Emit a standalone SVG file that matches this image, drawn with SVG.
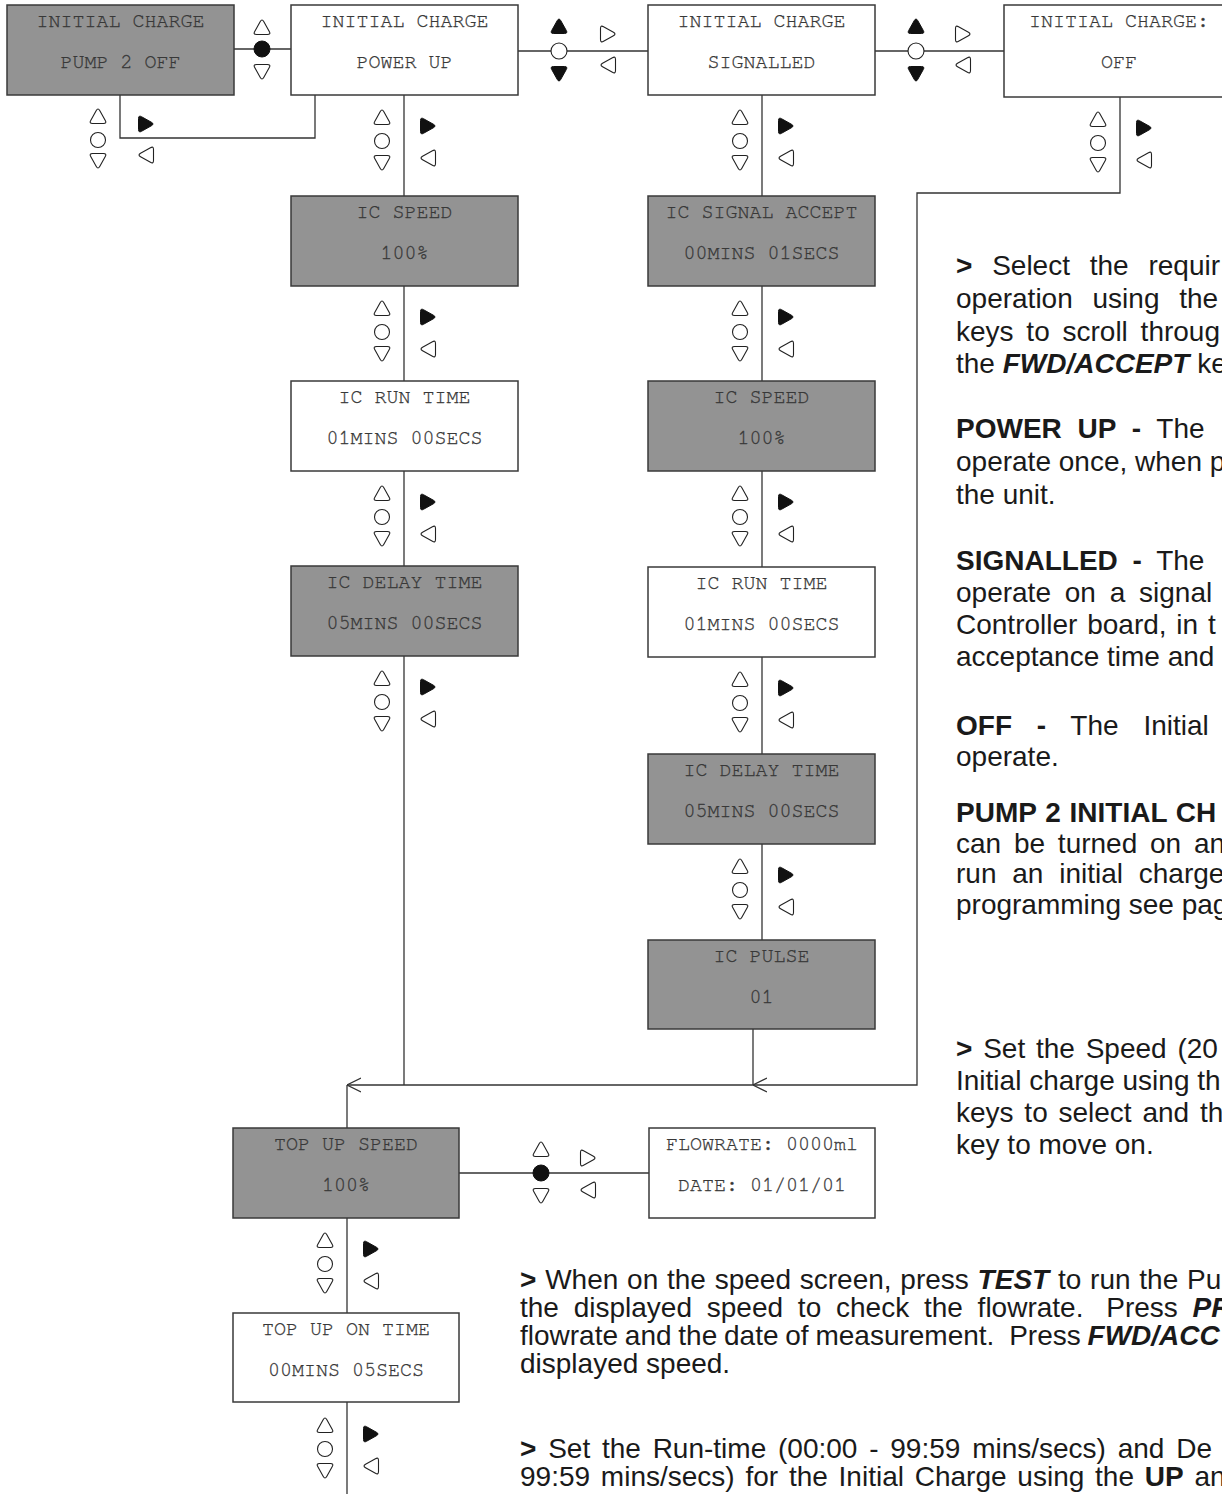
<svg xmlns="http://www.w3.org/2000/svg" width="1222" height="1494" viewBox="0 0 1222 1494">
<style>
.box{stroke:#3a3a3a;stroke-width:1.5}
.g{fill:#939393}
.w{fill:#fff}
.mono{font-family:"FreeMono","Nimbus Mono PS","Courier New","Liberation Mono",monospace;font-size:20px;fill:#383838;stroke:#383838;stroke-width:0.3;text-anchor:middle}
.ln{fill:none;stroke:#333;stroke-width:1.3}
.o{fill:#fff;stroke:#222;stroke-width:1.1}
.f{fill:#111;stroke:#111;stroke-width:1}
.txt{font-family:"Liberation Sans",Arial,sans-serif;font-size:28px;fill:#1a1a1a}
.b{font-weight:bold}
.bi{font-weight:bold;font-style:italic}
</style>
<defs>
<path id="tri" d="M-1.72,-5.45 Q0,-8.5 1.72,-5.45 L7.28,4.45 Q9,7.5 5.5,7.5 L-5.5,7.5 Q-9,7.5 -7.28,4.45 Z"/>
<marker id="chev" viewBox="0 0 14 16" refX="14" refY="8" markerWidth="14" markerHeight="16" orient="auto" markerUnits="userSpaceOnUse">
<path d="M0,1 L14,8 L0,15" fill="none" stroke="#333" stroke-width="1.2"/>
</marker>
</defs>
<rect width="1222" height="1494" fill="#fff"/>

<g id="connectors" class="ln">
<path d="M234,49 H291"/>
<path d="M518,51 H648"/>
<path d="M875,51 H1004"/>
<path d="M120,95 V138 H315 V95"/>
<path d="M404,95 V1085"/>
<path d="M762,95 V940"/>
<path d="M753,1029 V1085"/>
<path d="M1120,97 V193 H917 V1085 H753" marker-end="url(#chev)"/>
<path d="M753,1085 H347" marker-end="url(#chev)"/>
<path d="M347,1085 V1494"/>
<path d="M459,1173 H649"/>
</g>

<g id="keys">
<use href="#tri" class="o" transform="translate(262,27)"/>
<circle class="f" cx="262" cy="49" r="8"/>
<use href="#tri" class="o" transform="translate(262,72) rotate(180)"/>

<use href="#tri" class="f" transform="translate(559,26)"/>
<circle class="o" cx="559" cy="51" r="8"/>
<use href="#tri" class="f" transform="translate(559,74) rotate(180)"/>
<use href="#tri" class="o" transform="translate(608,34) rotate(90)"/>
<use href="#tri" class="o" transform="translate(608,65) rotate(-90)"/>

<use href="#tri" class="f" transform="translate(916,26)"/>
<circle class="o" cx="916" cy="51" r="8"/>
<use href="#tri" class="f" transform="translate(916,74) rotate(180)"/>
<use href="#tri" class="o" transform="translate(963,34) rotate(90)"/>
<use href="#tri" class="o" transform="translate(963,65) rotate(-90)"/>

<use href="#tri" class="o" transform="translate(541,1149)"/>
<circle class="f" cx="541" cy="1173" r="8"/>
<use href="#tri" class="o" transform="translate(541,1196) rotate(180)"/>
<use href="#tri" class="o" transform="translate(588,1158) rotate(90)"/>
<use href="#tri" class="o" transform="translate(588,1190) rotate(-90)"/>

<use href="#tri" class="o" transform="translate(98,116)"/>
<circle class="o" cx="98" cy="140" r="7.5"/>
<use href="#tri" class="o" transform="translate(98,161) rotate(180)"/>
<use href="#tri" class="f" transform="translate(146,124) rotate(90)"/>
<use href="#tri" class="o" transform="translate(146,155) rotate(-90)"/>

<use href="#tri" class="o" transform="translate(382,117)"/>
<circle class="o" cx="382" cy="141" r="7.5"/>
<use href="#tri" class="o" transform="translate(382,163) rotate(180)"/>
<use href="#tri" class="f" transform="translate(428,126) rotate(90)"/>
<use href="#tri" class="o" transform="translate(428,158) rotate(-90)"/>

<use href="#tri" class="o" transform="translate(382,308)"/>
<circle class="o" cx="382" cy="332" r="7.5"/>
<use href="#tri" class="o" transform="translate(382,354) rotate(180)"/>
<use href="#tri" class="f" transform="translate(428,317) rotate(90)"/>
<use href="#tri" class="o" transform="translate(428,349) rotate(-90)"/>

<use href="#tri" class="o" transform="translate(382,493)"/>
<circle class="o" cx="382" cy="517" r="7.5"/>
<use href="#tri" class="o" transform="translate(382,539) rotate(180)"/>
<use href="#tri" class="f" transform="translate(428,502) rotate(90)"/>
<use href="#tri" class="o" transform="translate(428,534) rotate(-90)"/>

<use href="#tri" class="o" transform="translate(382,678)"/>
<circle class="o" cx="382" cy="702" r="7.5"/>
<use href="#tri" class="o" transform="translate(382,724) rotate(180)"/>
<use href="#tri" class="f" transform="translate(428,687) rotate(90)"/>
<use href="#tri" class="o" transform="translate(428,719) rotate(-90)"/>

<use href="#tri" class="o" transform="translate(740,117)"/>
<circle class="o" cx="740" cy="141" r="7.5"/>
<use href="#tri" class="o" transform="translate(740,163) rotate(180)"/>
<use href="#tri" class="f" transform="translate(786,126) rotate(90)"/>
<use href="#tri" class="o" transform="translate(786,158) rotate(-90)"/>

<use href="#tri" class="o" transform="translate(740,308)"/>
<circle class="o" cx="740" cy="332" r="7.5"/>
<use href="#tri" class="o" transform="translate(740,354) rotate(180)"/>
<use href="#tri" class="f" transform="translate(786,317) rotate(90)"/>
<use href="#tri" class="o" transform="translate(786,349) rotate(-90)"/>

<use href="#tri" class="o" transform="translate(740,493)"/>
<circle class="o" cx="740" cy="517" r="7.5"/>
<use href="#tri" class="o" transform="translate(740,539) rotate(180)"/>
<use href="#tri" class="f" transform="translate(786,502) rotate(90)"/>
<use href="#tri" class="o" transform="translate(786,534) rotate(-90)"/>

<use href="#tri" class="o" transform="translate(740,679)"/>
<circle class="o" cx="740" cy="703" r="7.5"/>
<use href="#tri" class="o" transform="translate(740,725) rotate(180)"/>
<use href="#tri" class="f" transform="translate(786,688) rotate(90)"/>
<use href="#tri" class="o" transform="translate(786,720) rotate(-90)"/>

<use href="#tri" class="o" transform="translate(740,866)"/>
<circle class="o" cx="740" cy="890" r="7.5"/>
<use href="#tri" class="o" transform="translate(740,912) rotate(180)"/>
<use href="#tri" class="f" transform="translate(786,875) rotate(90)"/>
<use href="#tri" class="o" transform="translate(786,907) rotate(-90)"/>

<use href="#tri" class="o" transform="translate(1098,119)"/>
<circle class="o" cx="1098" cy="143" r="7.5"/>
<use href="#tri" class="o" transform="translate(1098,165) rotate(180)"/>
<use href="#tri" class="f" transform="translate(1144,128) rotate(90)"/>
<use href="#tri" class="o" transform="translate(1144,160) rotate(-90)"/>

<use href="#tri" class="o" transform="translate(325,1240)"/>
<circle class="o" cx="325" cy="1264" r="7.5"/>
<use href="#tri" class="o" transform="translate(325,1286) rotate(180)"/>
<use href="#tri" class="f" transform="translate(371,1249) rotate(90)"/>
<use href="#tri" class="o" transform="translate(371,1281) rotate(-90)"/>

<use href="#tri" class="o" transform="translate(325,1425)"/>
<circle class="o" cx="325" cy="1449" r="7.5"/>
<use href="#tri" class="o" transform="translate(325,1471) rotate(180)"/>
<use href="#tri" class="f" transform="translate(371,1434) rotate(90)"/>
<use href="#tri" class="o" transform="translate(371,1466) rotate(-90)"/>
</g>

<g id="n-pump2off"><rect class="box g" x="7" y="5" width="227" height="90"/><text class="mono" x="120.5" y="27">INITIAL CHARGE</text><text class="mono" x="120.5" y="68">PUMP 2 OFF</text></g>
<g id="n-powerup"><rect class="box w" x="291" y="5" width="227" height="90"/><text class="mono" x="404.5" y="27">INITIAL CHARGE</text><text class="mono" x="404.5" y="68">POWER UP</text></g>
<g id="n-signalled"><rect class="box w" x="648" y="5" width="227" height="90"/><text class="mono" x="761.5" y="27">INITIAL CHARGE</text><text class="mono" x="761.5" y="68">SIGNALLED</text></g>
<g id="n-off"><rect class="box w" x="1004" y="5" width="230" height="92"/><text class="mono" x="1119" y="27">INITIAL CHARGE:</text><text class="mono" x="1119" y="68">OFF</text></g>

<g id="n-c1-speed"><rect class="box g" x="291" y="196" width="227" height="90"/><text class="mono" x="404.5" y="218">IC SPEED</text><text class="mono" x="404.5" y="259">100%</text></g>
<g id="n-c1-run"><rect class="box w" x="291" y="381" width="227" height="90"/><text class="mono" x="404.5" y="403">IC RUN TIME</text><text class="mono" x="404.5" y="444">01MINS 00SECS</text></g>
<g id="n-c1-delay"><rect class="box g" x="291" y="566" width="227" height="90"/><text class="mono" x="404.5" y="588">IC DELAY TIME</text><text class="mono" x="404.5" y="629">05MINS 00SECS</text></g>

<g id="n-c2-accept"><rect class="box g" x="648" y="196" width="227" height="90"/><text class="mono" x="761.5" y="218">IC SIGNAL ACCEPT</text><text class="mono" x="761.5" y="259">00MINS 01SECS</text></g>
<g id="n-c2-speed"><rect class="box g" x="648" y="381" width="227" height="90"/><text class="mono" x="761.5" y="403">IC SPEED</text><text class="mono" x="761.5" y="444">100%</text></g>
<g id="n-c2-run"><rect class="box w" x="648" y="567" width="227" height="90"/><text class="mono" x="761.5" y="589">IC RUN TIME</text><text class="mono" x="761.5" y="630">01MINS 00SECS</text></g>
<g id="n-c2-delay"><rect class="box g" x="648" y="754" width="227" height="90"/><text class="mono" x="761.5" y="776">IC DELAY TIME</text><text class="mono" x="761.5" y="817">05MINS 00SECS</text></g>
<g id="n-c2-pulse"><rect class="box g" x="648" y="940" width="227" height="89"/><text class="mono" x="761.5" y="962">IC PULSE</text><text class="mono" x="761.5" y="1003">01</text></g>

<g id="n-topup-speed"><rect class="box g" x="233" y="1128" width="226" height="90"/><text class="mono" x="346" y="1150">TOP UP SPEED</text><text class="mono" x="346" y="1191">100%</text></g>
<g id="n-flowrate"><rect class="box w" x="649" y="1128" width="226" height="90"/><text class="mono" x="762" y="1150">FLOWRATE: 0000ml</text><text class="mono" x="762" y="1191">DATE: 01/01/01</text></g>
<g id="n-topup-on"><rect class="box w" x="233" y="1313" width="226" height="89"/><text class="mono" x="346" y="1335">TOP UP ON TIME</text><text class="mono" x="346" y="1376">00MINS 05SECS</text></g>

<g id="notes-right" class="txt">
<text x="956" y="275" word-spacing="12"><tspan class="b">&gt;</tspan> Select the requir</text>
<text x="956" y="308" word-spacing="12">operation using the</text>
<text x="956" y="341" word-spacing="5">keys to scroll throug</text>
<text x="956" y="373">the <tspan class="bi">FWD/ACCEPT</tspan> ke</text>
<text x="956" y="438" word-spacing="8"><tspan class="b">POWER UP -</tspan> The</text>
<text x="956" y="471">operate once, when p</text>
<text x="956" y="504">the unit.</text>
<text x="956" y="570" word-spacing="7"><tspan class="b">SIGNALLED -</tspan> The</text>
<text x="956" y="602" word-spacing="6">operate on a signal</text>
<text x="956" y="634" word-spacing="2">Controller board, in t</text>
<text x="956" y="666">acceptance time and</text>
<text x="956" y="735" word-spacing="17"><tspan class="b">OFF -</tspan> The Initial</text>
<text x="956" y="766">operate.</text>
<text x="956" y="822" class="b" word-spacing="1">PUMP 2 INITIAL CH</text>
<text x="956" y="853" word-spacing="5">can be turned on an</text>
<text x="956" y="883" word-spacing="8">run an initial charge</text>
<text x="956" y="914">programming see pag</text>
<text x="956" y="1058" word-spacing="3"><tspan class="b">&gt;</tspan> Set the Speed (20</text>
<text x="956" y="1090">Initial charge using th</text>
<text x="956" y="1122" word-spacing="3">keys to select and th</text>
<text x="956" y="1154">key to move on.</text>
</g>

<g id="notes-bottom" class="txt">
<text x="520" y="1289" word-spacing="1"><tspan class="b">&gt;</tspan> When on the speed screen, press <tspan class="bi">TEST</tspan> to run the Pu</text>
<text x="520" y="1317" word-spacing="7">the displayed speed to check the flowrate. <tspan dx="8">Press</tspan> <tspan class="bi">PR</tspan></text>
<text x="520" y="1345" word-spacing="-1">flowrate and the date of measurement. <tspan dx="8">Press</tspan> <tspan class="bi">FWD/ACC</tspan></text>
<text x="520" y="1373">displayed speed.</text>
<text x="520" y="1458" word-spacing="4"><tspan class="b">&gt;</tspan> Set the Run-time (00:00 - 99:59 mins/secs) and De</text>
<text x="520" y="1486" word-spacing="3">99:59 mins/secs) for the Initial Charge using the <tspan class="b">UP</tspan> an</text>
</g>
</svg>
